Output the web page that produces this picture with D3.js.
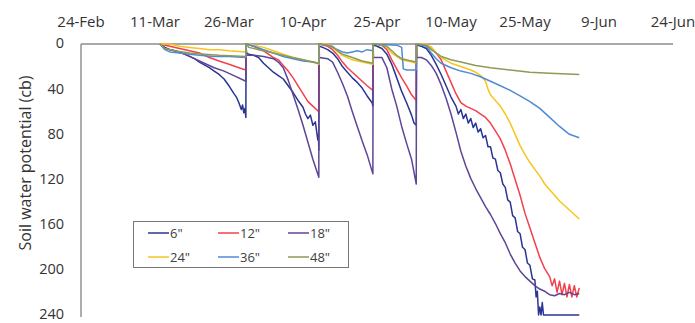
<!DOCTYPE html>
<html>
<head>
<meta charset="utf-8">
<script src="https://cdn.jsdelivr.net/npm/d3@7"></script>
<style>
  html, body { margin: 0; padding: 0; background: #fff; }
  svg { display: block; font-family: "Open Sans", sans-serif; }
  .tick-label { fill: #333; font-size: 15px; }
  .ytick-label { fill: #333; font-size: 14.5px; }
  .legend-label { fill: #404040; font-size: 13px; }
</style>
</head>
<body>
<svg width="695" height="323"></svg>
<script>
// x tick labels (every 15 days) and y ticks
const xTicks = ["2/24", "3/11", "3/26", "4/10", "4/25", "5/10", "5/25", "6/9", "6/24"];
const yTicks = [0, 40, 80, 120, 160, 200, 240];
const depths = ['6"', '12"', '18"', '24"', '36"', '48"'];

// readings: [date "M/D" or "M/D H", soil water potential cb]
const s6 = [
  ["3/12", 0], ["3/13", 3], ["3/14", 5], ["3/15", 6], ["3/16", 7.5], ["3/17", 9], ["3/18", 11], ["3/19", 13],
  ["3/20", 16], ["3/21", 18.5], ["3/22", 21], ["3/23", 24], ["3/24", 27], ["3/25", 31], ["3/26", 37],
  ["3/27", 44], ["3/27 12", 47], ["3/28", 52], ["3/28 12", 58], ["3/28 18", 54], ["3/29", 61], ["3/29 6", 57],
  ["3/29 10", 65], ["3/29 11", 0],
  ["3/29 13", 8], ["3/30", 9], ["3/31", 10], ["4/1", 12], ["4/2", 17], ["4/3", 21], ["4/4", 25], ["4/5", 28],
  ["4/6", 31], ["4/7", 37], ["4/8", 43], ["4/9", 50], ["4/10", 56], ["4/10 12", 62], ["4/11", 66],
  ["4/11 12", 63], ["4/12", 72], ["4/12 12", 69], ["4/13", 85], ["4/13 3", 80], ["4/13 5", 94], ["4/13 6", 0],
  ["4/13 8", 2], ["4/14", 3], ["4/15", 5], ["4/16", 8], ["4/17", 13], ["4/18", 20], ["4/19", 25], ["4/20", 30],
  ["4/21", 34], ["4/22", 39], ["4/23", 46], ["4/24", 52], ["4/24 4", 55], ["4/24 5", 0],
  ["4/24 7", 1], ["4/25", 2], ["4/26", 4], ["4/27", 9], ["4/28", 18], ["4/29", 30], ["4/30", 42], ["5/1", 52],
  ["5/2", 63], ["5/2 12", 70], ["5/2 23", 72], ["5/3", 0],
  ["5/3 2", 1], ["5/4", 2], ["5/5", 4], ["5/6", 10], ["5/7", 18], ["5/8", 27], ["5/9", 37], ["5/10", 47],
  ["5/11", 55], ["5/11 12", 62], ["5/12", 58], ["5/12 12", 66], ["5/13", 62], ["5/13 12", 70], ["5/14", 66],
  ["5/14 12", 74], ["5/15", 70], ["5/15 12", 78], ["5/16", 75], ["5/16 12", 83], ["5/17", 81], ["5/17 12", 91],
  ["5/18", 91], ["5/18 12", 101], ["5/19", 102], ["5/19 12", 112], ["5/20", 114], ["5/20 12", 124],
  ["5/21", 127], ["5/21 12", 138], ["5/22", 140], ["5/22 12", 152], ["5/23", 154], ["5/23 12", 166],
  ["5/24", 168], ["5/24 12", 180], ["5/25", 182], ["5/25 12", 194], ["5/26", 196], ["5/26 12", 208],
  ["5/27", 209], ["5/27 6", 224], ["5/27 12", 219], ["5/27 18", 240], ["5/28", 233], ["5/28 6", 240],
  ["5/28 12", 229], ["5/28 18", 240], ["6/5", 240]
];
const s12 = [
  ["3/12", 0], ["3/14", 2], ["3/16", 4], ["3/18", 6], ["3/20", 8], ["3/22", 12], ["3/24", 15], ["3/26", 18],
  ["3/28", 21], ["3/29 10", 23], ["3/29 11", 0],
  ["3/29 13", 0], ["3/31", 2], ["4/2", 6], ["4/3", 9], ["4/4", 12], ["4/5", 14], ["4/6", 19], ["4/7", 24],
  ["4/8", 30], ["4/9", 37], ["4/10", 44], ["4/11", 51], ["4/12", 55], ["4/13 5", 60], ["4/13 6", 0],
  ["4/13 8", 0], ["4/15", 2], ["4/16", 5], ["4/17", 10], ["4/18", 16], ["4/19", 21], ["4/20", 25], ["4/21", 29],
  ["4/22", 33], ["4/23", 37], ["4/24 4", 41], ["4/24 5", 0],
  ["4/24 7", 0], ["4/26", 1], ["4/27", 5], ["4/28", 14], ["4/29", 22], ["4/30", 30], ["5/1", 37], ["5/2", 45],
  ["5/2 23", 50], ["5/3", 0],
  ["5/3 2", 0], ["5/5", 1], ["5/6", 3], ["5/7", 8], ["5/8", 14], ["5/9", 24], ["5/10", 34], ["5/11", 44],
  ["5/12", 52], ["5/13", 55], ["5/14", 57], ["5/15", 59], ["5/16", 62], ["5/17", 65], ["5/18", 70], ["5/19", 77],
  ["5/20", 84], ["5/21", 94], ["5/22", 106], ["5/23", 120], ["5/24", 134], ["5/25", 150], ["5/26", 163],
  ["5/27", 176], ["5/28", 189], ["5/29", 199], ["5/30", 206], ["5/30 12", 214], ["5/31", 208],
  ["5/31 12", 220], ["6/1", 210], ["6/1 12", 222], ["6/2", 212], ["6/2 12", 224], ["6/3", 213],
  ["6/3 12", 224], ["6/4", 214], ["6/4 12", 224], ["6/5", 216]
];
const s18 = [
  ["3/12", 0], ["3/13", 4], ["3/15", 6], ["3/17", 9], ["3/19", 13], ["3/21", 17], ["3/23", 21], ["3/25", 24],
  ["3/27", 28], ["3/29 10", 33], ["3/29 11", 0],
  ["3/29 13", 10], ["3/31", 10], ["4/2", 11], ["4/4", 13], ["4/5", 16], ["4/6", 21], ["4/7", 32], ["4/8", 45],
  ["4/9", 58], ["4/10", 72], ["4/11", 87], ["4/12", 102], ["4/13 5", 118], ["4/13 6", 0],
  ["4/13 8", 12], ["4/15", 13], ["4/16", 16], ["4/17", 25], ["4/18", 35], ["4/19", 46], ["4/20", 60],
  ["4/21", 73], ["4/22", 86], ["4/23", 98], ["4/24 4", 115], ["4/24 5", 0],
  ["4/24 7", 12], ["4/25", 12], ["4/26", 12], ["4/27", 21], ["4/28", 40], ["4/29", 55], ["4/30", 73],
  ["5/1", 88], ["5/2", 102], ["5/2 23", 124], ["5/3", 0],
  ["5/3 2", 12], ["5/4", 12], ["5/5", 14], ["5/6", 19], ["5/7", 26], ["5/8", 36], ["5/9", 48], ["5/10", 62],
  ["5/11", 78], ["5/12", 95], ["5/13", 108], ["5/14", 119], ["5/15", 128], ["5/16", 136], ["5/17", 144],
  ["5/18", 151], ["5/19", 159], ["5/20", 168], ["5/21", 176], ["5/22", 186], ["5/23", 194], ["5/24", 201],
  ["5/25", 206], ["5/26", 210], ["5/27", 214], ["5/28", 217], ["5/29", 219], ["5/30", 222], ["5/31", 223],
  ["6/1", 221], ["6/2", 222], ["6/3", 220], ["6/4", 222], ["6/5", 221]
];
const s24 = [
  ["3/12", 0], ["3/14", 0], ["3/16", 2], ["3/18", 3], ["3/20", 4], ["3/22", 5], ["3/24", 5], ["3/26", 6],
  ["3/29 10", 7], ["3/29 11", 0],
  ["3/29 13", 0], ["3/31", 1], ["4/2", 3], ["4/4", 6], ["4/6", 9], ["4/8", 12], ["4/10", 14], ["4/12", 16],
  ["4/13 5", 18], ["4/13 6", 0],
  ["4/13 8", 0], ["4/15", 0], ["4/16", 3], ["4/17", 7], ["4/18", 10], ["4/19", 12], ["4/20", 14], ["4/22", 16],
  ["4/24 4", 18], ["4/24 5", 0],
  ["4/24 7", 0], ["4/26", 0], ["4/27", 3], ["4/28", 8], ["4/29", 11], ["4/30", 14], ["5/2", 16],
  ["5/2 23", 17], ["5/3", 0],
  ["5/3 2", 0], ["5/5", 0], ["5/6", 3], ["5/7", 8], ["5/8", 12], ["5/10", 17], ["5/12", 20], ["5/14", 23],
  ["5/15", 25], ["5/16", 28], ["5/17", 33], ["5/17 12", 40], ["5/18", 45], ["5/19", 50], ["5/20", 55],
  ["5/21", 62], ["5/22", 70], ["5/23", 80], ["5/24", 90], ["5/25", 98], ["5/26", 105], ["5/27", 111],
  ["5/28", 117], ["5/29", 124], ["5/30", 129], ["5/31", 134], ["6/1", 139], ["6/2", 143], ["6/3", 147],
  ["6/4", 151], ["6/5", 155]
];
const s36 = [
  ["3/12", 0], ["3/13", 5], ["3/14", 7], ["3/16", 8], ["3/18", 9], ["3/20", 10], ["3/23", 11], ["3/26", 11],
  ["3/29 10", 12], ["3/29 11", 0],
  ["3/29 13", 0], ["3/31", 2], ["4/2", 5], ["4/4", 8], ["4/6", 11], ["4/8", 13], ["4/10", 15], ["4/12", 16],
  ["4/13 5", 17], ["4/13 6", 0],
  ["4/13 8", 0], ["4/15", 1], ["4/16", 3], ["4/17", 5], ["4/18", 7], ["4/19", 8], ["4/20", 7], ["4/21", 6],
  ["4/22", 7], ["4/23", 5], ["4/24 4", 6], ["4/24 5", 0],
  ["4/24 7", 0], ["4/29", 1], ["4/30", 3], ["4/30 8", 22], ["5/1", 23], ["5/2", 23], ["5/2 23", 23], ["5/3", 0],
  ["5/3 2", 0], ["5/5", 2], ["5/6", 8], ["5/7", 13], ["5/8", 17], ["5/10", 21], ["5/12", 24], ["5/14", 26],
  ["5/16", 29], ["5/18", 33], ["5/20", 37], ["5/22", 41], ["5/24", 46], ["5/26", 51], ["5/28", 57],
  ["5/30", 65], ["6/1", 73], ["6/3", 80], ["6/5", 83]
];
const s48 = [
  ["3/12", 0], ["3/13", 4], ["3/15", 6], ["3/18", 8], ["3/21", 9], ["3/24", 10], ["3/29 10", 11], ["3/29 11", 0],
  ["3/29 13", 0], ["3/30", 3], ["4/1", 5], ["4/4", 8], ["4/7", 11], ["4/10", 14], ["4/13 5", 17], ["4/13 6", 0],
  ["4/13 8", 0], ["4/16", 2], ["4/17", 6], ["4/18", 9], ["4/20", 12], ["4/22", 15], ["4/24 4", 17], ["4/24 5", 0],
  ["4/24 7", 0], ["4/27", 2], ["4/28", 6], ["4/29", 10], ["4/30", 13], ["5/2", 15], ["5/2 23", 16], ["5/3", 0],
  ["5/3 2", 0], ["5/5", 1], ["5/6", 5], ["5/8", 11], ["5/10", 14], ["5/12", 16], ["5/15", 19], ["5/18", 21],
  ["5/22", 23], ["5/26", 25], ["5/30", 26], ["6/5", 27]
];

const seriesData = [s6, s12, s18, s24, s36, s48];
const colors = ["#2a3593", "#f2404c", "#5e4596", "#f7c51e", "#4f8bd4", "#8c9a5a"];

const fmt = d3.timeParse("%Y/%m/%d %H");
const parse = s => fmt("2011/" + (s.includes(" ") ? s : s + " 0"));

const svg = d3.select("svg");
const x = d3.scaleTime().domain([parse("2/24"), parse("6/24")]).range([81, 673]);
const y = d3.scaleLinear().domain([0, 240]).range([44, 315]);

// axes lines (x axis crosses at top, values reversed)
svg.append("line").attr("x1", x.range()[0]).attr("x2", x.range()[1])
  .attr("y1", y(0)).attr("y2", y(0)).attr("stroke", "#555").attr("stroke-width", 1.2);
svg.append("line").attr("x1", x.range()[0]).attr("x2", x.range()[0])
  .attr("y1", y(0)).attr("y2", y(240) + 2).attr("stroke", "#777").attr("stroke-width", 1.2);

svg.selectAll(".xlab").data(xTicks).join("text")
  .attr("class", "tick-label")
  .attr("x", d => x(parse(d)))
  .attr("y", 27)
  .attr("text-anchor", "middle")
  .text(d => d3.timeFormat("%-d-%b")(parse(d)));

svg.selectAll(".ylab").data(yTicks).join("text")
  .attr("class", "ytick-label")
  .attr("x", 64)
  .attr("y", d => y(d))
  .attr("dy", "0.3em")
  .attr("text-anchor", "end")
  .text(d => d);

svg.append("text")
  .attr("transform", "translate(25,163) rotate(-90)")
  .attr("text-anchor", "middle")
  .attr("dy", "0.35em")
  .attr("fill", "#333")
  .style("font-size", "16px")
  .text("Soil water potential (cb)");

const line = d3.line().x(d => x(parse(d[0]))).y(d => y(d[1]));

svg.append("g").selectAll("path").data(seriesData).join("path")
  .attr("d", line)
  .attr("fill", "none")
  .attr("stroke", (d, i) => colors[i])
  .attr("stroke-width", 1.5)
  .attr("stroke-linejoin", "round");

// legend
const lg = svg.append("g");
lg.append("rect").attr("x", 133.5).attr("y", 221.5).attr("width", 215).attr("height", 46)
  .attr("fill", "#fff").attr("stroke", "#777");
const items = lg.selectAll("g").data(depths).join("g")
  .attr("transform", (d, i) => `translate(${148 + (i % 3) * 70},${i < 3 ? 233 : 257})`);
items.append("line").attr("x1", 0).attr("x2", 21).attr("stroke", (d, i) => colors[i]).attr("stroke-width", 1.5);
items.append("text").attr("class", "legend-label").attr("x", 22).attr("dy", "0.35em").text(d => d);
</script>
</body>
</html>
